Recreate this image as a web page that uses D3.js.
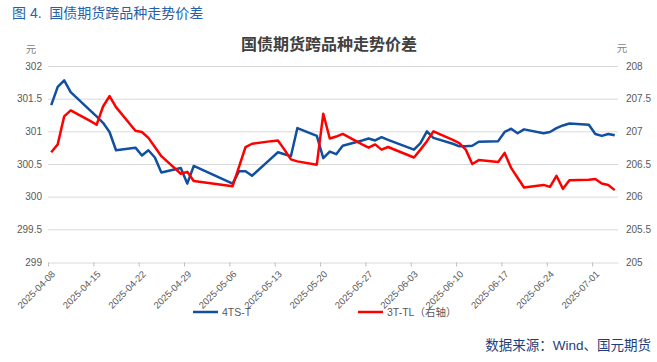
<!DOCTYPE html>
<html>
<head>
<meta charset="utf-8">
<script src="https://cdn.jsdelivr.net/npm/d3@7"></script>
<style>
  body { margin: 0; background: #fff; }
  svg { display: block; font-family: "Liberation Sans", Arial, "Noto Sans CJK SC", sans-serif; }
</style>
</head>
<body>
<div id="chart"></div>
<script>
// Trading days shown on the chart (date axis, weekends and holidays skipped)
var dates = [
  '2025-04-08', '2025-04-09', '2025-04-10', '2025-04-11',
  '2025-04-14', '2025-04-15', '2025-04-16', '2025-04-17', '2025-04-18',
  '2025-04-21', '2025-04-22', '2025-04-23', '2025-04-24', '2025-04-25',
  '2025-04-28', '2025-04-29', '2025-04-30',
  '2025-05-06', '2025-05-07', '2025-05-08', '2025-05-09',
  '2025-05-12', '2025-05-13', '2025-05-14', '2025-05-15', '2025-05-16',
  '2025-05-19', '2025-05-20', '2025-05-21', '2025-05-22', '2025-05-23',
  '2025-05-26', '2025-05-27', '2025-05-28', '2025-05-29', '2025-05-30',
  '2025-06-03', '2025-06-04', '2025-06-05', '2025-06-06',
  '2025-06-09', '2025-06-10', '2025-06-11', '2025-06-12', '2025-06-13',
  '2025-06-16', '2025-06-17', '2025-06-18', '2025-06-19', '2025-06-20',
  '2025-06-23', '2025-06-24', '2025-06-25', '2025-06-26', '2025-06-27',
  '2025-06-30', '2025-07-01', '2025-07-02', '2025-07-03', '2025-07-04'
];

// 4TS-T spread, left axis (yuan)
var spread4tsT = [
  301.40, 301.68, 301.78, 301.60,
  301.32, 301.23, 301.13, 300.99, 300.71,
  300.75, 300.63, 300.71, 300.60, 300.37,
  300.44, 300.20, 300.47,
  300.20, 300.39, 300.39, 300.32,
  300.59, 300.68, 300.65, 300.62, 301.05,
  300.93, 300.59, 300.69, 300.65, 300.78,
  300.86, 300.89, 300.86, 300.91, 300.87,
  300.72, 300.82, 301.00, 300.90,
  300.81, 300.77, 300.77, 300.78, 300.84,
  300.85, 300.99, 301.04, 300.97, 301.03,
  300.97, 300.99, 301.05, 301.09, 301.12,
  301.10, 300.96, 300.93, 300.96, 300.94
];

// 3T-TL spread, right axis (yuan)
var spread3tTL = [
  206.68, 206.80, 207.23, 207.32,
  207.16, 207.10, 207.38, 207.54, 207.37,
  207.01, 206.99, 206.90, 206.76, 206.62,
  206.35, 206.38, 206.24,
  206.16, 206.46, 206.76, 206.81,
  206.85, 206.86, 206.72, 206.57, 206.54,
  206.49, 207.27, 206.89, 206.92, 206.96,
  206.80, 206.75, 206.80, 206.72, 206.76,
  206.60, 206.72, 206.85, 207.00,
  206.87, 206.82, 206.72, 206.50, 206.56,
  206.53, 206.67, 206.44, 206.29, 206.14,
  206.18, 206.15, 206.32, 206.12, 206.25,
  206.26, 206.27, 206.20, 206.18, 206.10
];

var leftTicks = [299, 299.5, 300, 300.5, 301, 301.5, 302];
var rightTicks = [205, 205.5, 206, 206.5, 207, 207.5, 208];
var axisStart = '2025-04-08';
var axisEnd = '2025-07-05';

var width = 657;
var height = 362;
var plot = { left: 48, right: 618, top: 66, bottom: 262 };

var parseDate = d3.utcParse('%Y-%m-%d');
var formatDate = d3.utcFormat('%Y-%m-%d');

var svg = d3.select('#chart')
  .append('svg')
    .attr('width', width)
    .attr('height', height);

var x = d3.scaleUtc()
  .domain([parseDate(axisStart), parseDate(axisEnd)])
  .range([plot.left, plot.right]);

var yLeft = d3.scaleLinear()
  .domain([leftTicks[0], leftTicks[leftTicks.length - 1]])
  .range([plot.bottom, plot.top]);

var yRight = d3.scaleLinear()
  .domain([rightTicks[0], rightTicks[rightTicks.length - 1]])
  .range([plot.bottom, plot.top]);

// Points sit in the middle of their day slot
function xPos(d) {
  return x(d3.utcHour.offset(parseDate(d.date), 12));
}

// Header texts
svg.append('text')
  .attr('x', 12)
  .attr('y', 18)
  .attr('fill', '#2461ab')
  .style('font-size', '14px')
  .text('图 4.\u00a0\u00a0国债期货跨品种走势价差');

svg.append('text')
  .attr('x', 329)
  .attr('y', 50)
  .attr('text-anchor', 'middle')
  .attr('fill', '#404040')
  .style('font-size', '16px')
  .style('font-weight', 'bold')
  .text('国债期货跨品种走势价差');

svg.append('text')
  .attr('x', 31)
  .attr('y', 53)
  .attr('text-anchor', 'middle')
  .attr('fill', '#7f7f7f')
  .style('font-size', '10.5px')
  .text('元');

svg.append('text')
  .attr('x', 622)
  .attr('y', 52)
  .attr('text-anchor', 'middle')
  .attr('fill', '#7f7f7f')
  .style('font-size', '10.5px')
  .text('元');

// Gridlines
svg.append('g')
    .attr('class', 'grid')
  .selectAll('line')
  .data(leftTicks.slice(1))
  .enter()
  .append('line')
    .attr('x1', plot.left)
    .attr('x2', plot.right)
    .attr('y1', function(d) { return yLeft(d) + 0.5; })
    .attr('y2', function(d) { return yLeft(d) + 0.5; })
    .attr('stroke', '#d9d9d9')
    .attr('stroke-width', 1);

// Left axis
var leftAxis = svg.append('g')
  .attr('transform', 'translate(' + plot.left + ',0)')
  .call(d3.axisLeft(yLeft).tickValues(leftTicks).tickSize(0).tickPadding(6).tickFormat(String));
leftAxis.select('.domain').remove();
leftAxis.selectAll('text')
  .attr('fill', '#595959')
  .style('font-size', '10px');

// Right axis
var rightAxis = svg.append('g')
  .attr('transform', 'translate(' + plot.right + ',0)')
  .call(d3.axisRight(yRight).tickValues(rightTicks).tickSize(0).tickPadding(8).tickFormat(String));
rightAxis.select('.domain').remove();
rightAxis.selectAll('text')
  .attr('fill', '#595959')
  .style('font-size', '10px');

// Bottom date axis, a tick every 7 days
var weekTicks = d3.utcDay.range(parseDate(axisStart), parseDate(axisEnd), 7);
var xAxis = svg.append('g')
  .attr('transform', 'translate(0,' + (plot.bottom + 0.5) + ')')
  .call(d3.axisBottom(x).tickValues(weekTicks).tickSize(4).tickSizeOuter(0).tickFormat(formatDate));
xAxis.select('.domain').attr('stroke', '#d9d9d9');
xAxis.selectAll('.tick line').attr('stroke', '#bfbfbf');
xAxis.selectAll('text')
  .attr('x', 0)
  .attr('y', 0)
  .attr('dy', '0.35em')
  .attr('text-anchor', 'end')
  .attr('transform', 'translate(5,10) rotate(-45)')
  .attr('fill', '#595959')
  .style('font-size', '9.5px');

// Series
var leftData = dates.map(function(d, i) { return { date: d, v: spread4tsT[i] }; });
var rightData = dates.map(function(d, i) { return { date: d, v: spread3tTL[i] }; });

var lineLeft = d3.line()
  .x(xPos)
  .y(function(d) { return yLeft(d.v); });

var lineRight = d3.line()
  .x(xPos)
  .y(function(d) { return yRight(d.v); });

svg.append('path')
  .datum(leftData)
  .attr('fill', 'none')
  .attr('stroke', '#114f9f')
  .attr('stroke-width', 2.5)
  .attr('stroke-linejoin', 'round')
  .attr('d', lineLeft);

svg.append('path')
  .datum(rightData)
  .attr('fill', 'none')
  .attr('stroke', '#ff0000')
  .attr('stroke-width', 2.5)
  .attr('stroke-linejoin', 'round')
  .attr('d', lineRight);

// Legend
var legendItems = [
  { label: '4TS-T', color: '#114f9f', x: 193 },
  { label: '3T-TL（右轴）', color: '#ff0000', x: 358 }
];

var legend = svg.append('g')
  .selectAll('g')
  .data(legendItems)
  .enter()
  .append('g')
    .attr('transform', function(d) { return 'translate(' + d.x + ',312)'; });

legend.append('line')
  .attr('x1', 0)
  .attr('x2', 25)
  .attr('stroke', function(d) { return d.color; })
  .attr('stroke-width', 2.5);

legend.append('text')
  .attr('x', 29)
  .attr('dy', '0.35em')
  .attr('fill', '#595959')
  .style('font-size', '10.5px')
  .text(function(d) { return d.label; });

// Source
svg.append('text')
  .attr('x', 651)
  .attr('y', 350)
  .attr('text-anchor', 'end')
  .attr('fill', '#1f3d7a')
  .style('font-size', '13.5px')
  .text('数据来源：Wind、国元期货');
</script>
</body>
</html>
